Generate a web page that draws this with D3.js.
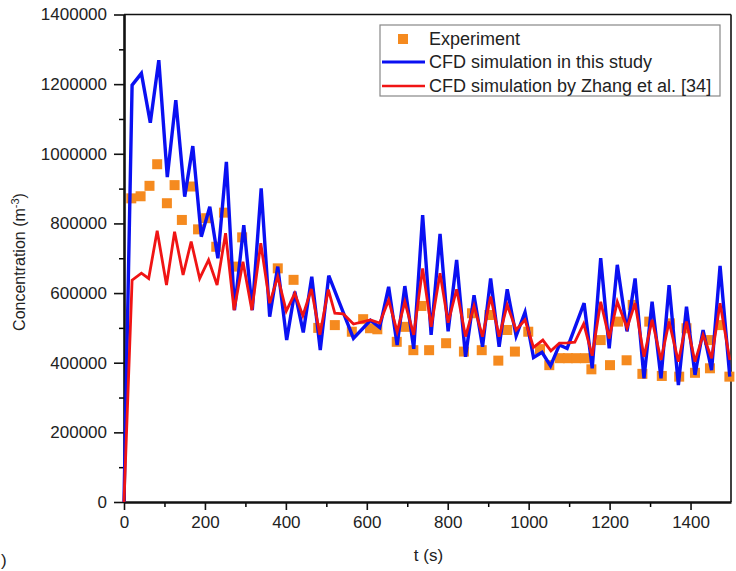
<!DOCTYPE html>
<html>
<head>
<meta charset="utf-8">
<script src="https://cdn.jsdelivr.net/npm/d3@7"></script>
<style>
  body { margin: 0; background: #fff; }
  svg text { font-family: "Liberation Sans", Arial, sans-serif; fill: #222; }
</style>
</head>
<body>
<div id="chart"></div>
<script>
// concentration vs time, experiment + two CFD runs
const svgWidth = 736;
const svgHeight = 571;
const plot = { left: 124, right: 731, top: 14.5, bottom: 502 };

// experiment points (t in s, concentration in m^-3)
const expT = [18, 41, 63, 82, 106, 125, 143, 166, 183, 203, 228, 247, 273, 292, 380, 419,
    480, 521, 563, 591, 608, 626, 674, 695, 715, 735, 754, 796, 840, 860, 884, 903, 925, 947,
    966, 999, 1028, 1051, 1077, 1097, 1117, 1139, 1155, 1178, 1201, 1221, 1242, 1257, 1281,
    1298, 1329, 1349, 1372, 1390, 1411, 1446, 1448, 1473, 1496];
const expV = [872000, 878000, 908000, 970000, 858000, 910000, 810000, 906000, 783000, 815000,
    733000, 831000, 676000, 760000, 671000, 638000,
    500000, 508000, 489000, 525000, 499000, 496000, 460000, 503000, 436000, 563000, 436000,
    456000, 432000, 542000, 436000, 537000, 406000, 494000,
    432000, 489000, 439000, 393000, 413000, 413000, 413000, 413000, 381000, 465000, 393000,
    518000, 407000, 566000, 368000, 518000, 362000, 513000, 360000, 499000, 371000, 465000,
    384000, 508000, 360000];

// CFD simulation in this study
const blueT = [0, 20, 43, 65, 86, 107, 128, 150, 170, 191, 212, 232, 253, 273, 296, 317, 339,
    360, 380, 402, 422, 443, 464, 485, 506, 567, 609, 632, 654, 675, 694, 716, 738, 759, 781,
    801, 822, 844, 865, 886, 906, 927, 947, 969, 991, 1012, 1033, 1054, 1076, 1095, 1137, 1157,
    1178, 1199, 1219, 1243, 1263, 1285, 1305, 1327, 1347, 1370, 1390, 1411, 1431, 1452, 1473, 1497];
const blueV = [0, 1197000, 1231000, 1089000, 1269000, 933000, 1154000, 877000, 1022000, 762000,
    848000, 700000, 977000, 551000, 795000, 551000, 901000, 532000, 676000, 465000, 604000,
    487000, 647000, 436000, 650000, 470000, 522000, 501000, 618000, 451000, 620000, 440000,
    824000, 480000, 770000, 490000, 695000, 417000, 594000, 446000, 642000, 446000, 611000,
    477000, 545000, 415000, 430000, 391000, 451000, 441000, 571000, 384000, 700000, 441000,
    681000, 490000, 642000, 355000, 575000, 355000, 623000, 336000, 561000, 365000, 494000,
    379000, 678000, 360000];

// CFD simulation by Zhang et al. [34]
const redT = [0, 20, 43, 61, 82, 105, 125, 146, 166, 187, 209, 230, 251, 272, 294, 316, 338,
    360, 380, 401, 422, 442, 463, 484, 505, 521, 542, 567, 609, 632, 654, 675, 694, 716, 738,
    759, 781, 801, 822, 844, 865, 886, 906, 927, 947, 969, 991, 1012, 1035, 1055, 1076, 1095,
    1114, 1136, 1157, 1178, 1199, 1219, 1243, 1263, 1285, 1305, 1327, 1347, 1370, 1390, 1411,
    1431, 1452, 1473, 1497];
const redV = [0, 637000, 657000, 642000, 779000, 623000, 776000, 652000, 748000, 642000, 695000,
    623000, 772000, 551000, 690000, 551000, 743000, 571000, 647000, 548000, 599000, 535000,
    612000, 480000, 610000, 542000, 540000, 511000, 523000, 514000, 580000, 489000, 575000,
    480000, 671000, 503000, 657000, 515000, 611000, 475000, 563000, 475000, 590000, 475000,
    566000, 494000, 523000, 444000, 465000, 434000, 456000, 457000, 459000, 512000, 420000,
    575000, 470000, 575000, 500000, 571000, 417000, 523000, 408000, 518000, 403000, 518000,
    403000, 480000, 413000, 571000, 408000];

const yTicks = [0, 200000, 400000, 600000, 800000, 1000000, 1200000, 1400000];
const xTicks = [0, 200, 400, 600, 800, 1000, 1200, 1400];
const seriesNames = ["Experiment", "CFD simulation in this study", "CFD simulation by Zhang et al. [34]"];
const colors = ["#f58a1f", "#0a10f2", "#f01414"];

const svg = d3.select("#chart")
    .append("svg")
    .attr("width", svgWidth)
    .attr("height", svgHeight);

const x = d3.scaleLinear().domain([0, 1500]).range([plot.left, plot.right]);
const y = d3.scaleLinear().domain([0, 1400000]).range([plot.bottom, plot.top]);

// frame top and right
svg.append("line")
    .attr("x1", plot.left).attr("x2", plot.right)
    .attr("y1", plot.top).attr("y2", plot.top)
    .attr("stroke", "#111").attr("stroke-width", 1.6);
svg.append("line")
    .attr("x1", plot.right).attr("x2", plot.right)
    .attr("y1", plot.top).attr("y2", plot.bottom)
    .attr("stroke", "#111").attr("stroke-width", 1.6);

// minor ticks first
svg.append("g")
    .attr("transform", `translate(${plot.left},0)`)
    .call(d3.axisLeft(y).tickValues(d3.range(100000, 1400000, 200000)).tickSize(5).tickFormat(""))
    .call(g => g.select(".domain").remove())
    .selectAll("line").attr("stroke-width", 1.5);
svg.append("g")
    .attr("transform", `translate(0,${plot.bottom})`)
    .call(d3.axisBottom(x).tickValues(d3.range(100, 1500, 200)).tickSize(5).tickFormat(""))
    .call(g => g.select(".domain").remove())
    .selectAll("line").attr("stroke-width", 1.5);

// major axes
const yAxis = svg.append("g")
    .attr("transform", `translate(${plot.left},0)`)
    .call(d3.axisLeft(y).tickValues(yTicks).tickSize(10).tickSizeOuter(0).tickPadding(7).tickFormat(d3.format("d")));
const xAxis = svg.append("g")
    .attr("transform", `translate(0,${plot.bottom})`)
    .call(d3.axisBottom(x).tickValues(xTicks).tickSize(8).tickSizeOuter(0).tickPadding(6).tickFormat(d3.format("d")));

[yAxis, xAxis].forEach(a => {
    a.select(".domain").attr("stroke", "#111").attr("stroke-width", 2.6);
    a.selectAll(".tick line").attr("stroke", "#111").attr("stroke-width", 1.6);
    a.selectAll(".tick text").attr("font-size", 17).attr("fill", "#222")
        .style("font-family", "'Liberation Sans', Arial, sans-serif");
});

// experiment squares
const sq = 10;
svg.append("g").selectAll("rect")
    .data(d3.zip(expT, expV))
    .enter().append("rect")
    .attr("x", d => x(d[0]) - sq / 2)
    .attr("y", d => y(d[1]) - sq / 2)
    .attr("width", sq).attr("height", sq)
    .attr("fill", colors[0]);

const line = d3.line().x(d => x(d[0])).y(d => y(d[1]));

svg.append("path")
    .datum(d3.zip(blueT, blueV))
    .attr("d", line)
    .attr("fill", "none")
    .attr("stroke", colors[1])
    .attr("stroke-width", 3.4);

svg.append("path")
    .datum(d3.zip(redT, redV))
    .attr("d", line)
    .attr("fill", "none")
    .attr("stroke", colors[2])
    .attr("stroke-width", 2.8);

// axis titles
svg.append("text")
    .attr("x", (plot.left + plot.right) / 2 + 1)
    .attr("y", 561)
    .attr("text-anchor", "middle")
    .attr("font-size", 17)
    .text("t (s)");

const yTitle = svg.append("text")
    .attr("transform", "translate(25,262) rotate(-90)")
    .attr("text-anchor", "middle")
    .attr("font-size", 16);
yTitle.append("tspan").text("Concentration (m");
yTitle.append("tspan").attr("dy", -6).attr("font-size", 11).text("-3");
yTitle.append("tspan").attr("dy", 6).text(")");

// leftover panel label
svg.append("text")
    .attr("x", 1).attr("y", 566)
    .attr("font-size", 17)
    .text(")");

// legend
const legend = svg.append("g");
legend.append("rect")
    .attr("x", 380).attr("y", 25)
    .attr("width", 340).attr("height", 71)
    .attr("fill", "#fff")
    .attr("stroke", "#888").attr("stroke-width", 1.2);

const rows = [39, 62, 86];
legend.append("rect")
    .attr("x", 403 - sq / 2).attr("y", rows[0] - sq / 2)
    .attr("width", sq).attr("height", sq)
    .attr("fill", colors[0]);
legend.append("line")
    .attr("x1", 382).attr("x2", 425).attr("y1", rows[1]).attr("y2", rows[1])
    .attr("stroke", colors[1]).attr("stroke-width", 3);
legend.append("line")
    .attr("x1", 382).attr("x2", 425).attr("y1", rows[2]).attr("y2", rows[2])
    .attr("stroke", colors[2]).attr("stroke-width", 2.6);

legend.selectAll(".legText")
    .data(seriesNames)
    .enter().append("text")
    .attr("class", "legText")
    .attr("x", 429)
    .attr("y", (d, i) => rows[i] + 6)
    .attr("font-size", 18)
    .text(d => d);
</script>
</body>
</html>
